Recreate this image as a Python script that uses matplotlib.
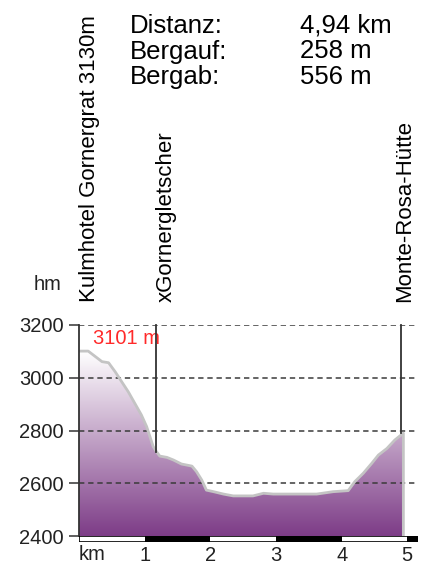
import numpy as np
import matplotlib
matplotlib.use("Agg")
import matplotlib.pyplot as plt
from matplotlib.colors import LinearSegmentedColormap

plt.rcParams['font.family'] = ['Liberation Sans', 'DejaVu Sans']

# Data
km = [0.00, 0.14, 0.24, 0.35, 0.45, 0.55, 0.65, 0.75, 0.85, 0.95, 1.03, 1.08, 1.13, 1.18,
      1.23, 1.34, 1.44, 1.56, 1.72, 1.79, 1.87, 1.94, 2.05, 2.20, 2.35, 2.65, 2.81, 2.96,
      3.26, 3.62, 3.87, 4.10, 4.20, 4.33, 4.46, 4.56, 4.69, 4.81, 4.94]
elev = [3101, 3101, 3082, 3061, 3057, 3023, 2985, 2947, 2903, 2859, 2815, 2777, 2739, 2720,
        2703, 2698, 2688, 2673, 2665, 2644, 2612, 2574, 2568, 2559, 2552, 2552, 2562, 2559,
        2559, 2559, 2568, 2572, 2606, 2638, 2676, 2707, 2732, 2764, 2790]
waypoints = ["Kulmhotel Gornergrat 3130m", "xGornergletscher", "Monte-Rosa-Hütte"]
waypoint_km = [0.0, 1.18, 4.90]
waypoint_elev = [2400, 2720, 2790]
y_ticks = [2400, 2600, 2800, 3000, 3200]
x_ticks = [1, 2, 3, 4, 5]
stats_labels = ["Distanz:", "Bergauf:", "Bergab:"]
stats_values = ["4,94 km", "258 m", "556 m"]
max_label = "3101 m"

W, H = 425, 569
fig = plt.figure(figsize=(W / 100, H / 100), dpi=100)

x0px, x1px = 79, 418
ytop, ybot = 325, 536
pxkm = 65.66
xmax = (x1px - x0px) / pxkm
ax = fig.add_axes([x0px / W, 1 - ybot / H, (x1px - x0px) / W, (ybot - ytop) / H])
ax.set_xlim(0, xmax)
ax.set_ylim(2400, 3200)

# gradient fill
cmap = LinearSegmentedColormap.from_list("p", ["#7d3c87", "#ffffff"])
grad = np.linspace(0, 1, 256).reshape(-1, 1)
im = ax.imshow(grad, extent=[0, xmax, 2400, 3101], origin="lower", aspect="auto",
               cmap=cmap, zorder=1)
clip = ax.fill(km + [km[-1], km[0]], elev + [2400, 2400], color="none", lw=0)[0]
im.set_clip_path(clip)
ax.plot(km + [km[-1]], elev + [2400], color="#c4c4c4", lw=2, zorder=3)

# grid
for yv in y_ticks[1:]:
    ax.axhline(yv, color="#3a3a3a", lw=1.1, ls=(0, (3.5, 2.5)), zorder=2)

# waypoint lines
for xk, ye in zip(waypoint_km, waypoint_elev):
    ax.plot([xk, xk], [3200, ye], color="#333333", lw=1.3, zorder=4, clip_on=False)

for s in ax.spines.values():
    s.set_visible(False)
ax.set_xticks([])
ax.set_yticks(y_ticks)
ax.set_yticklabels([str(v) for v in y_ticks], fontsize=14.5, color="#222222")
ax.tick_params(axis="y", length=7, width=1.1, color="#333333", pad=4)

ax.text(0.22, 3148, max_label, color="#ff2a2a", fontsize=14.5, ha="left", va="center")

# scale bar
sb = fig.add_axes([x0px / W, 1 - 542 / H, (x1px - x0px) / W, 6 / H])
sb.set_xlim(0, xmax)
sb.set_ylim(0, 1)
edges = [0] + x_ticks + [xmax]
for i in range(len(edges) - 1):
    sb.axvspan(edges[i], edges[i + 1], color="white" if i % 2 == 0 else "black", lw=0)
sb.axvspan(0, xmax, fill=False, ec="black", lw=1.2)
for s in sb.spines.values():
    s.set_visible(False)
sb.set_yticks([])
sb.set_xticks(x_ticks)
sb.set_xticklabels([str(v) for v in x_ticks], fontsize=14.5, color="#222222")
sb.tick_params(axis="x", length=0, pad=3)
sb.text(0.0, -0.55, "km", transform=sb.get_xaxis_transform(), fontsize=14.5,
        color="#222222", ha="left", va="top")

# hm label
fig.text(48 / W, 1 - 285 / H, "hm", fontsize=14.5, color="#222222", ha="center", va="center")

# waypoint labels
offsets = [11, 10, 4]
for name, xk, off in zip(waypoints, waypoint_km, offsets):
    xp = x0px + xk * pxkm + off
    fig.text(xp / W, 1 - 302 / H, name, rotation=90, fontsize=16, ha="center",
             va="bottom", color="black")

# stats
for i, (lab, val) in enumerate(zip(stats_labels, stats_values)):
    yb = 33 + i * 25.5
    fig.text(130 / W, 1 - yb / H, lab, fontsize=18.5, ha="left", va="baseline")
    fig.text(300 / W, 1 - yb / H, val, fontsize=18.5, ha="left", va="baseline")

fig.savefig("out.png", dpi=100)
